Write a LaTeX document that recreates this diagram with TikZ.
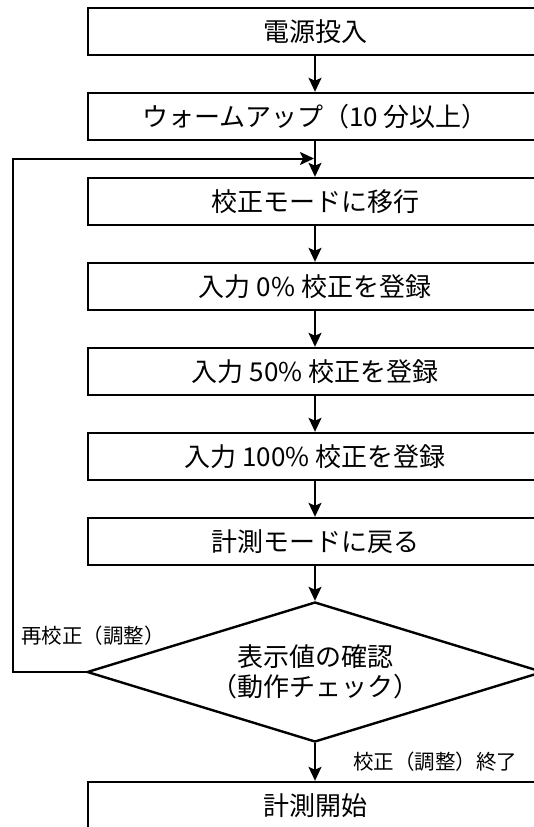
\documentclass[tikz,border=0pt]{standalone}
\usepackage{fontspec}
\setmainfont{Noto Sans CJK JP}
\usetikzlibrary{shapes.geometric,arrows.meta}
\tikzset{
  stepbox/.style={draw=black, line width=2.4pt, rectangle, minimum width=454pt, minimum height=47pt, inner sep=0pt, font=\fontsize{26}{30}\selectfont},
  decide/.style={draw=black, line width=2.4pt, diamond, aspect=3.26, minimum width=456pt, minimum height=140pt, inner sep=0pt, align=center, font=\fontsize{26}{30}\selectfont},
  arr/.style={line width=2pt, -{Stealth[length=14pt,width=13pt,inset=3pt]}},
  lbl/.style={font=\fontsize{20.5}{24}\selectfont, inner sep=0pt}
}
\begin{document}
\begin{tikzpicture}[x=1pt,y=-1pt]
\useasboundingbox (0,0) rectangle (534,827);
\clip (0,0) rectangle (534,827);
\node[stepbox] (b1) at (315,31.5) {電源投入};
\node[stepbox] (b2) at (315,116.5) {ウォームアップ（10 分以上）};
\node[stepbox] (b3) at (315,201.5) {校正モードに移行};
\node[stepbox] (b4) at (315,286.5) {入力 0\% 校正を登録};
\node[stepbox] (b5) at (315,371.5) {入力 50\% 校正を登録};
\node[stepbox] (b6) at (315,456.5) {入力 100\% 校正を登録};
\node[stepbox] (b7) at (315,541.5) {計測モードに戻る};
\node[decide] (d) at (315,672) {表示値の確認\\（動作チェック）};
\node[stepbox] (b8) at (315,805.5) {計測開始};
\coordinate (join) at (314,158.5);
\coordinate (lb) at (13,672);
\coordinate (lt) at (13,158.5);
\draw[arr] (b1) -- (b2);
\draw[arr] (b2) -- (b3);
\draw[arr] (b3) -- (b4);
\draw[arr] (b4) -- (b5);
\draw[arr] (b5) -- (b6);
\draw[arr] (b6) -- (b7);
\draw[arr] (b7) -- (d);
\draw[arr] (d) -- (b8);
\draw[arr] (d.west) -- (lb) -- (lt) -- (join);
\node[lbl, anchor=west] (l1) at (21,636) {再校正（調整）};
\node[lbl, anchor=west] (l2) at (353,762) {校正（調整）終了};
\end{tikzpicture}
\end{document}
